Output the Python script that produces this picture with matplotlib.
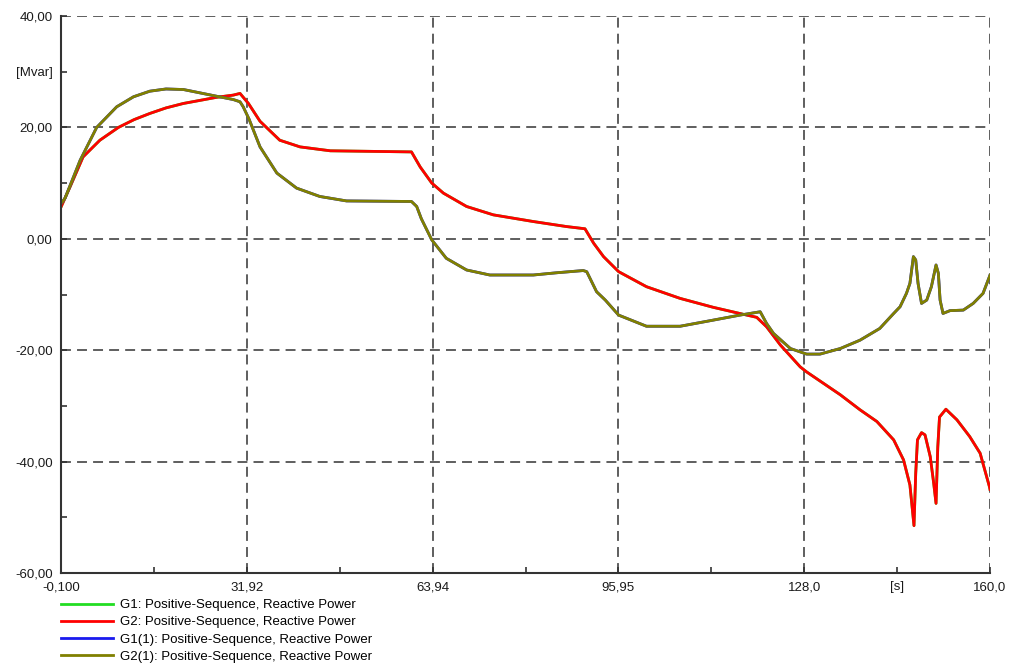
import matplotlib
matplotlib.use("Agg")
import matplotlib.pyplot as plt
from matplotlib.ticker import FixedLocator, FixedFormatter

plt.rcParams['font.family'] = ['Liberation Sans', 'DejaVu Sans']

# G2: positive-sequence reactive power [Mvar] vs time [s]
t_g2 = [-0.1, 1.45, 3.7, 6.6, 9.8, 12.5, 15.2, 18.0, 21.0, 26.7, 29.6, 30.75,
        32.2, 34.2, 37.6, 41.1, 46.3, 60.3, 61.8, 63.8, 65.8, 69.8, 74.4, 81.3,
        87.0, 90.2, 91.7, 93.4, 96.0, 100.8, 106.6, 112.3, 118.1, 119.8, 121.5,
        123.9, 127.3, 128.4, 134.2, 137.6, 140.5, 143.4, 145.1, 146.2, 146.9,
        147.2, 147.5, 148.2, 148.8, 149.7, 150.3, 150.7, 151.0, 151.3, 152.4,
        154.3, 156.5, 158.3, 159.9, 160.0]
q_g2 = [5.7, 9.3, 14.7, 17.7, 20.0, 21.4, 22.5, 23.5, 24.3, 25.4, 25.8, 26.1,
        24.3, 21.1, 17.7, 16.5, 15.8, 15.6, 12.9, 10.0, 8.2, 5.8, 4.3, 3.1,
        2.2, 1.8, -0.8, -3.2, -5.9, -8.6, -10.7, -12.3, -13.7, -14.1, -15.8,
        -19.1, -23.0, -23.9, -28.0, -30.7, -32.8, -36.1, -39.7, -44.2, -51.5,
        -42.1, -36.1, -34.8, -35.2, -39.1, -43.9, -47.5, -37.4, -32.0, -30.6,
        -32.5, -35.5, -38.5, -44.5, -45.0]

# G2(1)
t_g2b = [-0.1, 0.6, 3.2, 6.05, 9.5, 12.4, 15.2, 18.0, 21.0, 26.7, 29.6, 30.75,
         31.3, 32.3, 34.2, 37.1, 40.5, 44.5, 49.1, 60.3, 61.2, 62.0, 63.8, 66.3,
         69.8, 73.8, 81.3, 85.3, 89.9, 90.5, 92.2, 93.7, 96.0, 100.8, 106.6,
         112.3, 116.9, 120.4, 121.5, 122.7, 125.6, 128.4, 130.7, 134.2, 137.6,
         141.0, 143.4, 144.5, 145.6, 146.2, 146.8, 147.2, 147.6, 148.2, 149.1,
         149.9, 150.7, 151.1, 151.4, 151.9, 153.1, 155.4, 157.1, 158.8, 159.9,
         160.0]
q_g2b = [6.3, 7.3, 14.1, 20.0, 23.7, 25.5, 26.5, 26.9, 26.8, 25.6, 25.0, 24.6,
         23.7, 21.5, 16.5, 11.8, 9.1, 7.6, 6.8, 6.7, 5.8, 3.6, -0.2, -3.5,
         -5.6, -6.5, -6.5, -6.1, -5.7, -5.9, -9.5, -11.0, -13.7, -15.7, -15.7,
         -14.6, -13.7, -13.1, -15.2, -17.0, -19.7, -20.7, -20.7, -19.7, -18.2,
         -16.1, -13.4, -12.2, -9.8, -8.0, -3.2, -3.8, -8.0, -11.6, -11.0,
         -8.6, -4.7, -6.2, -11.0, -13.4, -12.9, -12.8, -11.6, -9.8, -6.8, -6.5]

# G1 and G1(1) lie exactly under G2 and G2(1)
t_g1, q_g1 = t_g2, q_g2
t_g1b, q_g1b = t_g2b, q_g2b

labels = ["G1: Positive-Sequence, Reactive Power",
          "G2: Positive-Sequence, Reactive Power",
          "G1(1): Positive-Sequence, Reactive Power",
          "G2(1): Positive-Sequence, Reactive Power"]
colors = ["#22dd22", "#ff0000", "#1a1aee", "#808000"]

x_major = [-0.1, 31.92, 63.94, 95.95, 128.0, 160.0]
x_major_lbl = ["-0,100", "31,92", "63,94", "95,95", "128,0", "160,0"]
x_minor = [15.91, 47.93, 79.95, 112.0, 144.0]
x_minor_lbl = ["", "", "", "", "[s]"]
y_major = [-60, -40, -20, 0, 20, 40]
y_major_lbl = ["-60,00", "-40,00", "-20,00", "0,00", "20,00", "40,00"]
y_minor = [-50, -30, -10, 10, 30]
y_minor_lbl = ["", "", "", "", "[Mvar]"]

FS = 9.5

fig = plt.figure(figsize=(10.11, 6.66), dpi=100)
ax = fig.add_axes([61 / 1011, 1 - 573 / 666, 929 / 1011, 557 / 666])

lines = []
for t, q, c, lab in zip([t_g1, t_g2, t_g1b, t_g2b], [q_g1, q_g2, q_g1b, q_g2b], colors, labels):
    ln, = ax.plot(t, q, color=c, lw=2.0, label=lab)
    lines.append(ln)

ax.set_xlim(-0.1, 160.0)
ax.set_ylim(-60, 40)

ax.xaxis.set_major_locator(FixedLocator(x_major))
ax.xaxis.set_major_formatter(FixedFormatter(x_major_lbl))
ax.xaxis.set_minor_locator(FixedLocator(x_minor))
ax.xaxis.set_minor_formatter(FixedFormatter(x_minor_lbl))
ax.yaxis.set_major_locator(FixedLocator(y_major))
ax.yaxis.set_major_formatter(FixedFormatter(y_major_lbl))
ax.yaxis.set_minor_locator(FixedLocator(y_minor))
ax.yaxis.set_minor_formatter(FixedFormatter(y_minor_lbl))

ax.tick_params(which='both', direction='in', length=4, width=1.2, color='#333333',
               labelsize=FS, labelcolor='#1a1a1a')
ax.tick_params(axis='y', which='both', pad=6)
ax.tick_params(axis='x', which='both', pad=6)

for s in ['top', 'right']:
    ax.spines[s].set_visible(False)
for s in ['left', 'bottom']:
    ax.spines[s].set_color('#333333')
    ax.spines[s].set_linewidth(1.5)

ax.grid(True, which='major', color='#333333', lw=1.1, linestyle=(0, (6.5, 4)))
ax.set_axisbelow(True)

fig.legend(handles=lines, loc='upper left', bbox_to_anchor=(61 / 1011, 1 - 599 / 666),
           frameon=False, fontsize=FS, handlelength=3.95, handletextpad=0.55,
           labelspacing=0.38, borderpad=0, borderaxespad=0)

fig.savefig("out.png", dpi=100)
